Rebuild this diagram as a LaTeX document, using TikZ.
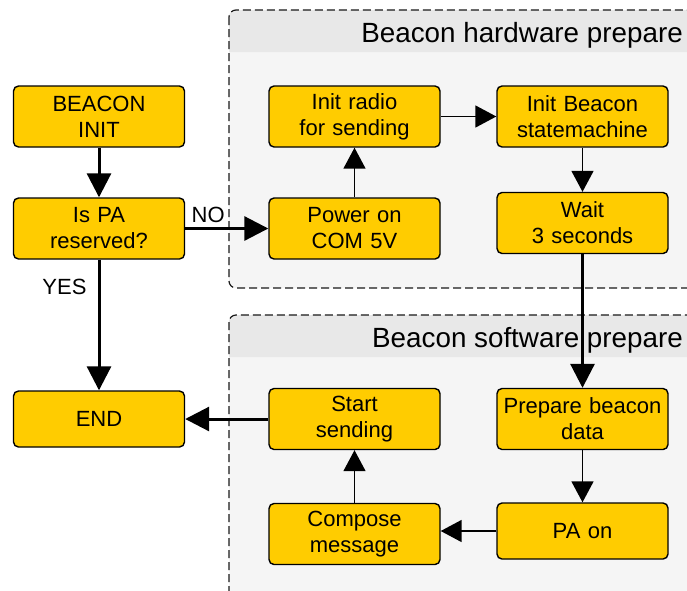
\documentclass[tikz,border=0pt]{standalone}
\usepackage{fontspec}
\setmainfont{Liberation Sans}
\usetikzlibrary{arrows.meta}
\definecolor{boxyellow}{HTML}{FFCC00}
\definecolor{groupfill}{HTML}{F5F5F5}
\definecolor{grouphead}{HTML}{E8E8E8}

\begin{document}
\begin{tikzpicture}[x=1pt, y=-1pt,
    box/.style = {draw, fill=boxyellow, line width=1.4pt, rounded corners=5pt, minimum width=171pt, minimum height=61pt, text width=165pt, align=center, inner sep=0pt, font=\fontsize{22}{26}\selectfont},
    flow/.style = {line width=3pt, -{Triangle[length=24pt, width=24pt]}},
    link/.style = {line width=1.6pt, -{Triangle[length=21pt, width=22pt]}},
    group/.style = {draw=black!90, line width=1.2pt, dash pattern=on 8pt off 4pt, rounded corners=7pt},
    title/.style = {anchor=base east, inner sep=0pt, font=\fontsize{27.8}{32}\selectfont},
    lbl/.style = {inner sep=0pt, font=\fontsize{22}{26}\selectfont}]
                  \useasboundingbox (0,0) rectangle (687,590);
                  \clip (0,0) rectangle (687,590);
                  % hardware group
                  \fill[groupfill, rounded corners=7pt] (229,10) rectangle (720,288);
                  \fill[grouphead, rounded corners=7pt] (229,52) -- (229,10) -- (720,10) [sharp corners] -- (720,52) -- cycle;
                  \draw[group] (229,10) rectangle (720,288);
                  \node[title] (hwtitle) at (683,42) {Beacon hardware prepare};
                  % software group
                  \fill[groupfill, rounded corners=7pt] (229,315) rectangle (720,640);
                  \fill[grouphead, rounded corners=7pt] (229,357) -- (229,315) -- (720,315) [sharp corners] -- (720,357) -- cycle;
                  \draw[group] (229,315) rectangle (720,640);
                  \node[title] (swtitle) at (683,347) {Beacon software prepare};
                  \node[box] (init) at (99,116.5) {BEACON\\INIT};
                  \node[box] (ispa) at (99,228.5) {Is PA\\reserved?};
                  \node[box, minimum height=56pt] (finish) at (99,419) {END};
                  \node[box] (radio) at (354.5,116.5) {Init radio\\for sending};
                  \node[box] (power) at (354.5,228.5) {Power on\\COM 5V};
                  \node[box] (smach) at (582.5,116.5) {Init Beacon\\statemachine};
                  \node[box] (wait) at (582.5,223) {Wait\\3 seconds};
                  \node[box] (send) at (354.5,419) {Start\\sending};
                  \node[box] (compose) at (354.5,534) {Compose\\message};
                  \node[box] (prep) at (582.5,419) {Prepare beacon\\data};
                  \node[box, minimum height=56pt] (paon) at (582.5,531) {PA on};
                  \draw[flow] (init) -- (ispa);
                  \draw[flow] (ispa) -- node[lbl, pos=0.06, anchor=base west, yshift=6pt] (no) {NO} (power);
                  \draw[flow] (ispa) -- node[lbl, pos=0.27, anchor=base east, xshift=-11pt] (yes) {YES} (finish);
                  \draw[link] (power) -- (radio);
                  \draw[link] (radio) -- (smach);
                  \draw[link] (smach) -- (wait);
                  \draw[flow] (wait) -- (prep);
                  \draw[link] (prep) -- (paon);
                  \draw[link] (paon) -- (paon.west -| compose.east);
                  \draw[link] (compose) -- (send);
                  \draw[flow] (send) -- (finish);
              \end{tikzpicture}
\end{document}
